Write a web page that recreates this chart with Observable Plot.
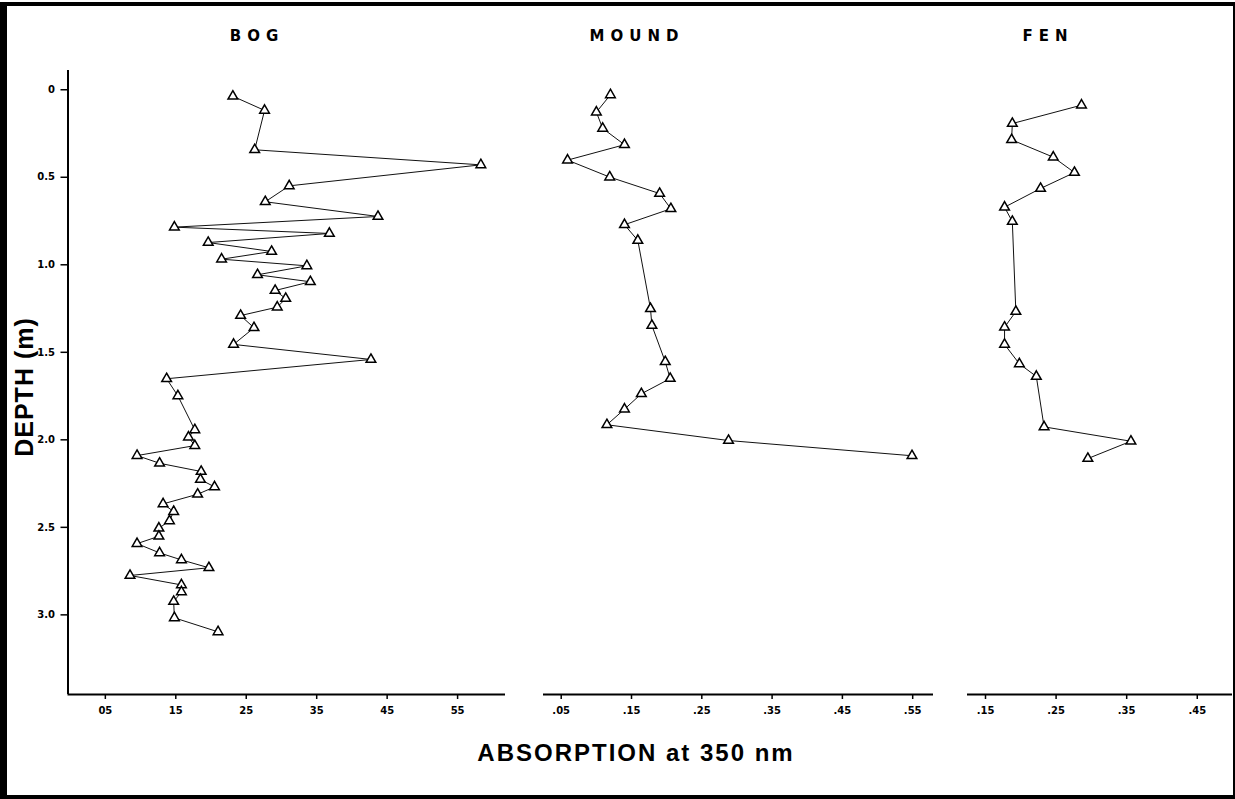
<!DOCTYPE html>
<html>
<head>
<meta charset="utf-8">
<script src="https://cdn.jsdelivr.net/npm/d3@7"></script>
<script src="https://cdn.jsdelivr.net/npm/@observablehq/plot@0.6"></script>
<style>
  body { margin: 0; background: #fff; }
  #wrap { position: relative; width: 1235px; height: 799px; overflow: hidden; background: #fff; }
  .frame { position: absolute; left: 0; top: 2px; width: 1235px; height: 797px; box-sizing: border-box;
           border-top: 4px solid #000; border-left: 7px solid #000; border-right: 2px solid #000; border-bottom: 4px solid #000; }
  .panelTitle { position: absolute; top: 27px; font: bold 15px "DejaVu Sans", sans-serif; letter-spacing: 6px;
                padding-left: 6px; transform: translateX(-50%); white-space: nowrap; line-height: 18px; }
  .xlabel { position: absolute; top: 741px; font: bold 24px "Liberation Sans", Arial, sans-serif; letter-spacing: 2px;
            transform: translateX(-50%); white-space: nowrap; line-height: 24px; }
  .ylabel { position: absolute; font: bold 25px "Liberation Sans", Arial, sans-serif; letter-spacing: 1px;
            transform: translate(-50%, -50%) rotate(-90deg); white-space: nowrap; line-height: 25px; }
  svg.plot-svg { position: absolute; top: 0; }
</style>
</head>
<body>
<div id="wrap"></div>
<script>
// ---- data (depth in m, absorption at 350 nm) ----
const bogDepth = [0.037,0.118,0.343,0.429,0.549,0.640,0.724,0.785,0.821,0.873,0.924,0.968,1.006,1.057,1.097,1.147,1.193,1.242,1.290,1.360,1.455,1.541,1.651,1.749,1.943,1.985,2.033,2.090,2.134,2.181,2.227,2.269,2.311,2.366,2.410,2.463,2.505,2.551,2.593,2.646,2.686,2.731,2.775,2.829,2.869,2.924,3.017,3.097];
const bogAbs   = [0.231,0.276,0.262,0.583,0.311,0.277,0.437,0.148,0.368,0.196,0.286,0.215,0.336,0.266,0.341,0.291,0.306,0.294,0.242,0.261,0.232,0.427,0.137,0.153,0.177,0.168,0.177,0.095,0.127,0.186,0.185,0.205,0.181,0.132,0.147,0.141,0.126,0.126,0.095,0.127,0.158,0.197,0.085,0.158,0.158,0.147,0.148,0.210];

const moundDepth = [0.029,0.128,0.221,0.314,0.402,0.499,0.593,0.680,0.771,0.861,1.251,1.347,1.554,1.650,1.737,1.825,1.914,2.004,2.091];
const moundAbs   = [0.120,0.100,0.109,0.140,0.059,0.119,0.190,0.206,0.140,0.159,0.177,0.179,0.198,0.205,0.164,0.140,0.115,0.288,0.549];

const fenDepth = [0.088,0.193,0.286,0.385,0.473,0.564,0.671,0.753,1.267,1.357,1.455,1.566,1.638,1.926,2.008,2.107];
const fenAbs   = [0.286,0.188,0.187,0.246,0.276,0.228,0.177,0.188,0.193,0.177,0.177,0.198,0.222,0.233,0.356,0.295];

const panelNames = ["BOG", "MOUND", "FEN"];
const depthTicks = [0, 0.5, 1.0, 1.5, 2.0, 2.5, 3.0];
const depthTickLabels = ["0", "0.5", "1.0", "1.5", "2.0", "2.5", "3.0"];
const bogTicks = [0.05, 0.15, 0.25, 0.35, 0.45, 0.55];
const bogTickLabels = ["05", "15", "25", "35", "45", "55"];
const moundTicks = [0.05, 0.15, 0.25, 0.35, 0.45, 0.55];
const moundTickLabels = [".05", ".15", ".25", ".35", ".45", ".55"];
const fenTicks = [0.15, 0.25, 0.35, 0.45];
const fenTickLabels = [".15", ".25", ".35", ".45"];
const xTitle = "ABSORPTION at 350 nm";
const yTitle = "DEPTH (m)";

// ---- layout ----
const wrap = document.getElementById("wrap");
const H = 799;
const yDomain = [-0.110, 3.455];

function panel({depth, abs, xDomain, ticks, labels, left, width, ml, mr, withY}) {
  const data = depth.map((d, i) => ({depth: d, abs: abs[i]}));
  const labelMap = new Map(ticks.map((t, i) => [t, labels[i]]));
  const yLabelMap = new Map(depthTicks.map((t, i) => [t, depthTickLabels[i]]));
  const marks = [
    Plot.ruleY([yDomain[1]], {stroke: "#000", strokeWidth: 2}),
    Plot.axisX({ticks, tickFormat: d => labelMap.get(d), tickSize: 5, tickPadding: 7, anchor: "bottom", strokeWidth: 1.5, label: null}),
    Plot.line(data, {x: "abs", y: "depth", stroke: "#111", strokeWidth: 1}),
    Plot.dot(data, {x: "abs", y: "depth", symbol: "triangle", r: 3.6, stroke: "#000", fill: "#fff", strokeWidth: 1.5})
  ];
  if (withY) {
    marks.unshift(Plot.ruleX([xDomain[0]], {stroke: "#000", strokeWidth: 2}));
    marks.push(Plot.axisY({ticks: depthTicks, tickFormat: d => yLabelMap.get(d), tickSize: 7, tickPadding: 6, strokeWidth: 1.5, label: null}));
  }
  const svg = Plot.plot({
    width, height: H,
    marginLeft: ml, marginRight: mr, marginTop: 70, marginBottom: H - 694,
    x: {domain: xDomain, label: null},
    y: {domain: yDomain, reverse: true, label: null, ...(withY ? {} : {axis: null})},
    style: {background: "transparent", fontFamily: "DejaVu Sans", fontSize: "10px", fontWeight: "bold", overflow: "visible"},
    marks
  });
  svg.classList.add("plot-svg");
  svg.style.position = "absolute";
  svg.style.left = left + "px";
  svg.style.top = "0px";
  svg.style.maxWidth = "none";
  wrap.appendChild(svg);
}

const frame = document.createElement("div");
frame.className = "frame";
wrap.appendChild(frame);

panel({depth: bogDepth, abs: bogAbs, xDomain: [-0.003, 0.618], ticks: bogTicks, labels: bogTickLabels,
       left: 0, width: 520, ml: 67.5, mr: 15, withY: true});
panel({depth: moundDepth, abs: moundAbs, xDomain: [0.0248, 0.5796], ticks: moundTicks, labels: moundTickLabels,
       left: 520, width: 430, ml: 23, mr: 17, withY: false});
panel({depth: fenDepth, abs: fenAbs, xDomain: [0.1245, 0.4999], ticks: fenTicks, labels: fenTickLabels,
       left: 950, width: 285, ml: 17, mr: 3, withY: false});

const titleX = [254, 634, 1045];
panelNames.forEach((n, i) => {
  const d = document.createElement("div");
  d.className = "panelTitle";
  d.textContent = n;
  d.style.left = titleX[i] + "px";
  wrap.appendChild(d);
});

const xl = document.createElement("div");
xl.className = "xlabel";
xl.textContent = xTitle;
xl.style.left = "636px";
wrap.appendChild(xl);

const yl = document.createElement("div");
yl.className = "ylabel";
yl.textContent = yTitle;
yl.style.left = "24px";
yl.style.top = "387px";
wrap.appendChild(yl);
</script>
</body>
</html>
